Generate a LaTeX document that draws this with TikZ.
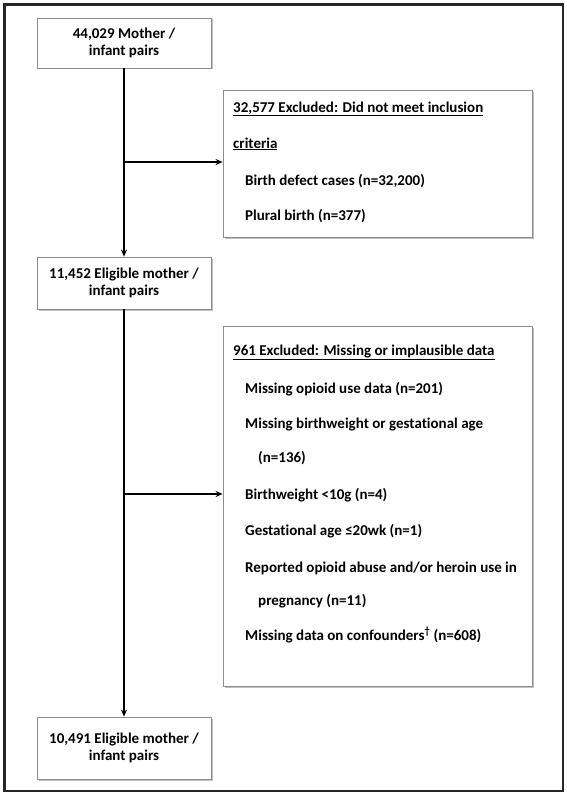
\documentclass[tikz,border=0pt]{standalone}
\usepackage{fontspec}
\setmainfont[Ligatures=NoCommon]{Carlito}
\usetikzlibrary{arrows.meta}
\begin{document}
\begin{tikzpicture}[x=1pt,y=-1pt,
  font=\bfseries\fontsize{15}{17}\selectfont,
  mainbox/.style={draw=black!45, line width=0.8pt, fill=white, align=center, inner sep=0pt},
  flow/.style={line width=1.8pt, -{Stealth[length=7pt,width=6pt]}},
  side/.style={line width=1.3pt, -{Stealth[length=7pt,width=6pt]}},
  itm/.style={anchor=base west, inner sep=0pt}]
\useasboundingbox (0,0) rectangle (567,795);
\fill[white] (0,0) rectangle (567,795);
\draw[line width=2.2pt, black!85] (4.5,4.5) rectangle (563,791);
% shadows
\foreach \xa/\ya/\xb/\yb in {37/17/211/67, 37/257/211/309, 37/717/211/779, 223/90/532/237, 223/326/532/686}
  \fill[black!25] (\xa+1.5,\ya+1.5) rectangle (\xb+1.5,\yb+1.5);
\node[mainbox, minimum width=174pt, minimum height=50pt] (b1) at (124,43) {44,029 Mother /\\infant pairs};
\node[mainbox, minimum width=174pt, minimum height=52pt] (b2) at (124,283) {11,452 Eligible mother /\\infant pairs};
\node[mainbox, minimum width=174pt, minimum height=62pt] (b3) at (124,748) {10,491 Eligible mother /\\infant pairs};
\node[mainbox, minimum width=309pt, minimum height=147pt] (e1) at (377.5,163.5) {};
\node[mainbox, minimum width=309pt, minimum height=360pt] (e2) at (377.5,506) {};
\draw[flow] (b1) -- (b2);
\draw[flow] (b2) -- (b3);
\coordinate (j1) at (123,162);
\coordinate (j2) at (123,494);
\draw[side] (j1) -- (j1 -| e1.west);
\draw[side] (j2) -- (j2 -| e2.west);
% exclusion 1 text
\node[itm] (t11) at (233,112) {\underline{32,577 Excluded: Did not meet inclusion}};
\node[itm] (t12) at (233,148) {\underline{criteria}};
\node[itm] (t13) at (245,185) {Birth defect cases (n=32,200)};
\node[itm] (t14) at (245,220) {Plural birth (n=377)};
% exclusion 2 text
\node[itm] (t21) at (233,355) {\underline{961 Excluded: Missing or implausible data}};
\node[itm] (t22) at (245,393) {Missing opioid use data (n=201)};
\node[itm] (t23) at (245,428) {Missing birthweight or gestational age};
\node[itm] (t24) at (258,462) {(n=136)};
\node[itm] (t25) at (245,499) {Birthweight <10g (n=4)};
\node[itm] (t26) at (245,535) {Gestational age ≤20wk (n=1)};
\node[itm] (t27) at (245,572) {Reported opioid abuse and/or heroin use in};
\node[itm] (t28) at (258,605) {pregnancy (n=11)};
\node[itm] (t29) at (245,640) {Missing data on confounders\textsuperscript{†} (n=608)};
\end{tikzpicture}
\end{document}
